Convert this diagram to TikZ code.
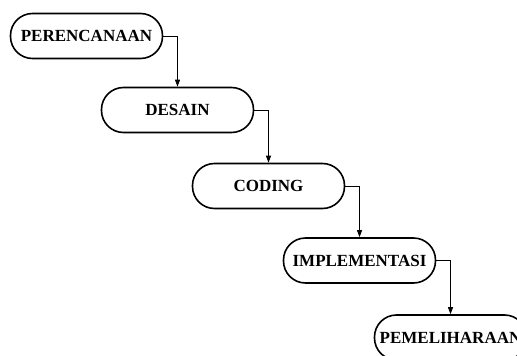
\documentclass[tikz,border=0pt]{standalone}
\usepackage{fontspec}
\setmainfont{Liberation Serif}
\usetikzlibrary{arrows.meta}
\begin{document}
\begin{tikzpicture}[x=1pt,y=-1pt,
  stage/.style={draw, line width=1.6pt, rounded corners=22pt, minimum width=152pt, minimum height=45pt, inner sep=0pt, font=\fontsize{17}{20}\selectfont\bfseries, fill=white},
  flow/.style={draw, line width=0.8pt, -{Triangle[length=7pt,width=5pt]}}]
\clip (0,0) rectangle (517,356);
\useasboundingbox (0,0) rectangle (517,356);
\node[stage] (p1) at (86.5,36) {PERENCANAAN};
\node[stage] (p2) at (177.5,110) {DESAIN};
\node[stage] (p3) at (268.5,186) {CODING};
\node[stage] (p4) at (359.5,260.5) {IMPLEMENTASI};
\node[stage] (p5) at (450.5,337.5) {PEMELIHARAAN};
\draw[flow] (p1.east) -| (p2.north);
\draw[flow] (p2.east) -| (p3.north);
\draw[flow] (p3.east) -| (p4.north);
\draw[flow] (p4.east) -| (p5.north);
\end{tikzpicture}
\end{document}
